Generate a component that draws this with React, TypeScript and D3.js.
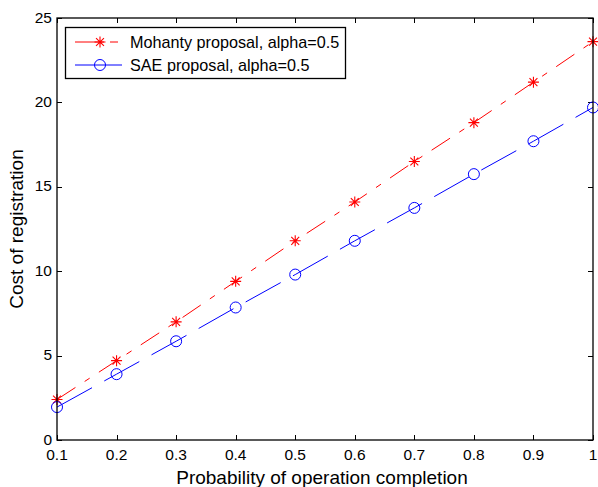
import React, { useRef, useEffect } from "react";
import * as d3 from "d3";

const probs = [0.1, 0.2, 0.3, 0.4, 0.5, 0.6, 0.7, 0.8, 0.9, 1.0];
const mohanty = [2.4, 4.7, 7.0, 9.4, 11.8, 14.1, 16.5, 18.8, 21.2, 23.6];
const sae = [1.95, 3.9, 5.85, 7.85, 9.8, 11.8, 13.75, 15.75, 17.7, 19.7];
const xTicks = [0.1, 0.2, 0.3, 0.4, 0.5, 0.6, 0.7, 0.8, 0.9, 1];
const yTicks = [0, 5, 10, 15, 20, 25];
const seriesNames = ["Mohanty proposal, alpha=0.5", "SAE proposal, alpha=0.5"];

const width = 598, height = 487;
const font = "'Liberation Sans', Arial, sans-serif";

export default function App() {
  const svgRef = useRef<SVGSVGElement>(null);

  useEffect(() => {
    const svg = d3.select(svgRef.current);
    svg.selectAll("*").remove();

    const left = 57, right = 593, top = 18, bottom = 440;
    const x = d3.scaleLinear().domain([0.1, 1]).range([left, right]);
    const y = d3.scaleLinear().domain([0, 25]).range([bottom, top]);

    svg.append("rect").attr("width", width).attr("height", height).attr("fill", "#fff");

    // tick marks on all four sides (inward)
    const ticks = svg.append("g").attr("stroke", "#000").attr("stroke-width", 1);
    xTicks.forEach((t) => {
      const px = Math.round(x(t)) + 0.5;
      ticks.append("line").attr("x1", px).attr("x2", px).attr("y1", bottom).attr("y2", bottom - 5);
      ticks.append("line").attr("x1", px).attr("x2", px).attr("y1", top).attr("y2", top + 5);
    });
    yTicks.forEach((t) => {
      const py = Math.round(y(t)) + 0.5;
      ticks.append("line").attr("x1", left).attr("x2", left + 5).attr("y1", py).attr("y2", py);
      ticks.append("line").attr("x1", right).attr("x2", right - 5).attr("y1", py).attr("y2", py);
    });

    // tick labels
    svg.append("g").selectAll("text").data(xTicks).join("text")
      .attr("x", (d) => x(d)).attr("y", 460)
      .attr("text-anchor", "middle")
      .attr("font-family", font).attr("font-size", 15.5)
      .text((d) => (d === 1 ? "1" : d3.format(".1f")(d)));
    svg.append("g").selectAll("text").data(yTicks).join("text")
      .attr("x", 52).attr("y", (d) => y(d) + 4.5)
      .attr("text-anchor", "end")
      .attr("font-family", font).attr("font-size", 15.5)
      .text((d) => String(d));

    // axis titles
    svg.append("text").attr("x", 322).attr("y", 484).attr("text-anchor", "middle")
      .attr("font-family", font).attr("font-size", 19)
      .text("Probability of operation completion");
    svg.append("text").attr("transform", `translate(23,${(top + bottom) / 2}) rotate(-90)`)
      .attr("text-anchor", "middle")
      .attr("font-family", font).attr("font-size", 19)
      .text("Cost of registration");

    const line = d3.line<number>().x((d, i) => x(probs[i])).y((d) => y(d));

    // series lines
    svg.append("path").datum(mohanty).attr("d", line).attr("fill", "none")
      .attr("stroke", "#ff0000").attr("stroke-width", 1).attr("stroke-dasharray", "22 11 6 11");
    svg.append("path").datum(sae).attr("d", line).attr("fill", "none")
      .attr("stroke", "#0000ff").attr("stroke-width", 1).attr("stroke-dasharray", "40 14");

    const star = (g: any, cx: number, cy: number, r: number) => {
      const d = r * 0.72;
      g.append("path")
        .attr("d", `M${cx - r},${cy}L${cx + r},${cy}M${cx},${cy - r}L${cx},${cy + r}M${cx - d},${cy - d}L${cx + d},${cy + d}M${cx - d},${cy + d}L${cx + d},${cy - d}`)
        .attr("stroke", "#ff0000").attr("stroke-width", 1.1).attr("fill", "none");
    };

    const markers = svg.append("g");
    mohanty.forEach((v, i) => star(markers, x(probs[i]), y(v), 5.5));
    markers.selectAll("circle").data(sae).join("circle")
      .attr("cx", (d, i) => x(probs[i])).attr("cy", (d) => y(d)).attr("r", 5.5)
      .attr("fill", "none").attr("stroke", "#0000ff").attr("stroke-width", 1);

    // axes box
    svg.append("rect").attr("x", left).attr("y", top).attr("width", right - left).attr("height", bottom - top)
      .attr("fill", "none").attr("stroke", "#000").attr("stroke-width", 1.3);

    // legend
    const lg = svg.append("g");
    lg.append("rect").attr("x", 65.5).attr("y", 27.5).attr("width", 280).attr("height", 51)
      .attr("fill", "#fff").attr("stroke", "#000").attr("stroke-width", 1.3);
    lg.append("path").attr("d", "M75,42L122,42").attr("stroke", "#ff0000").attr("fill", "none")
      .attr("stroke-dasharray", "29 6 8 6");
    star(lg, 100, 42, 5.5);
    lg.append("path").attr("d", "M75,65L122,65").attr("stroke", "#0000ff").attr("fill", "none");
    lg.append("circle").attr("cx", 100).attr("cy", 65).attr("r", 5.5)
      .attr("fill", "none").attr("stroke", "#0000ff");
    lg.selectAll("text.lbl").data(seriesNames).join("text")
      .attr("class", "lbl")
      .attr("x", 130).attr("y", (d, i) => 47.5 + i * 23)
      .attr("font-family", font).attr("font-size", 16.2)
      .text((d) => d);
  }, []);

  return (
    <svg ref={svgRef} width={width} height={height}
      style={{ position: "absolute", left: 0, top: 0 }} />
  );
}
